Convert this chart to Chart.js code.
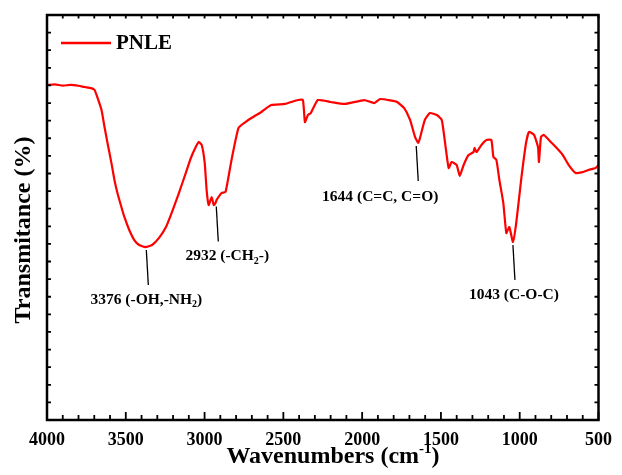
<!DOCTYPE html>
<html>
<head>
<meta charset="utf-8">
<script src="https://cdn.jsdelivr.net/npm/chart.js@4.4.1/dist/chart.umd.min.js"></script>
<style>
  html, body { margin: 0; padding: 0; background: #fff; }
  #wrap { width: 622px; height: 475px; }
</style>
</head>
<body>
<div id="wrap"><canvas id="chart-ftir"></canvas></div>
<script>
/* ---------- Datos del espectro ---------- */
const seriesLabel = 'PNLE';
const wavenumbers = [4000, 3950, 3900, 3850, 3800, 3761, 3720, 3698, 3679, 3654, 3635, 3616, 3591, 3572, 3553,
  3528, 3509, 3478, 3446, 3415, 3376, 3333, 3289, 3245, 3207, 3163, 3119, 3087, 3056, 3037, 3018, 2999, 2987,
  2974, 2955, 2942, 2932, 2924, 2892, 2867, 2829, 2785, 2741, 2703, 2640, 2577, 2489,
  2407, 2376, 2363, 2344, 2326, 2281, 2200, 2112, 1986, 1923, 1885, 1820, 1778, 1734, 1696, 1664, 1644, 1633,
  1602, 1570, 1526, 1495, 1476, 1451, 1432, 1400, 1381, 1356, 1325, 1293, 1287, 1274, 1243, 1211, 1180, 1167,
  1148, 1129, 1104, 1085, 1066, 1043, 1022, 991, 960, 941, 909, 884, 878, 865, 846, 815, 771, 727, 689, 645,
  601, 563, 519, 500];
const transmittance = [19.02, 19.06, 18.99, 19.03, 18.98, 18.91, 18.85, 18.74, 18.29, 17.60, 16.64, 15.73, 14.59, 13.63, 12.89,
  12.10, 11.53, 10.79, 10.22, 9.94, 9.82, 9.94, 10.34, 10.96, 11.81, 12.89, 14.03, 14.88, 15.50, 15.79, 15.62, 14.59, 13.06,
  12.21, 12.66, 12.21, 12.30, 12.49, 12.89, 12.95, 14.77, 16.58, 16.92, 17.15, 17.49, 17.89, 17.95,
  18.17, 18.17, 16.92, 17.32, 17.43, 18.17, 18.06, 17.95, 18.17, 18.00, 18.23, 18.15, 18.06, 17.72, 17.04, 16.07, 15.73, 16.01,
  17.04, 17.43, 17.32, 17.04, 15.90, 14.31, 14.65, 14.48, 13.86, 14.48, 15.05, 15.22, 15.45, 15.22, 15.62, 15.90, 15.90, 14.94,
  14.77, 13.63, 12.32, 10.62, 10.96, 10.11, 11.19, 13.63, 15.73, 16.36, 16.19, 15.50, 14.65, 16.07, 16.19, 15.90, 15.50, 15.05, 14.48, 14.03,
  14.08, 14.20, 14.31, 14.48];

/* ---------- Anotaciones de picos ---------- */
const peakWaves  = [3376, 2932, 1644, 1043];
const peakLabels = ['3376 (-OH,-NH_2)', '2932 (-CH_2-)', '1644 (C=C, C=O)', '1043 (C-O-C)'];

/* ---------- Ejes ---------- */
const xTickValues = [4000, 3500, 3000, 2500, 2000, 1500, 1000, 500];

const SERIF = "'Liberation Serif', 'Times New Roman', serif";
const RED = '#ff0000';

/* texto con subíndices: "_2" -> 2 pequeño */
function drawRich(ctx, str, cx, cy, size) {
  const parts = str.split(/_(\d)/);
  const big = `bold ${size}px ${SERIF}`, small = `bold ${Math.round(size * 0.62)}px ${SERIF}`;
  let total = 0;
  parts.forEach((p, i) => { ctx.font = i % 2 ? small : big; total += ctx.measureText(p).width; });
  let x = cx - total / 2;
  ctx.textAlign = 'left';
  ctx.textBaseline = 'middle';
  parts.forEach((p, i) => {
    ctx.font = i % 2 ? small : big;
    ctx.fillText(p, x, cy + (i % 2 ? size * 0.3 : 0));
    x += ctx.measureText(p).width;
  });
}

const ftirDecor = {
  id: 'ftirDecor',
  afterDatasetsDraw(chart, args, opts) {
    const { ctx, chartArea: a, scales: { x, y } } = chart;
    ctx.save();

    /* marco */
    ctx.strokeStyle = '#000';
    ctx.lineWidth = 2.5;
    ctx.strokeRect(a.left, a.top, a.right - a.left, a.bottom - a.top);

    /* ticks hacia adentro */
    ctx.lineWidth = 1.8;
    ctx.beginPath();
    for (let w = 500; w <= 4000; w += 100) {
      const px = x.getPixelForValue(w);
      const len = w % 500 === 0 ? 8 : 5;
      ctx.moveTo(px, a.bottom); ctx.lineTo(px, a.bottom - len);
      ctx.moveTo(px, a.top);    ctx.lineTo(px, a.top + 3.5);
    }
    for (let v = y.min; v <= y.max; v++) {
      const py = y.getPixelForValue(v);
      ctx.moveTo(a.left, py);  ctx.lineTo(a.left + 4, py);
      ctx.moveTo(a.right, py); ctx.lineTo(a.right - 4, py);
    }
    ctx.stroke();

    /* anotaciones */
    ctx.fillStyle = '#000';
    ctx.lineWidth = 1.3;
    peakWaves.forEach((w, i) => {
      let k = 0;
      wavenumbers.forEach((v, j) => { if (Math.abs(v - w) < Math.abs(wavenumbers[k] - w)) k = j; });
      const px = x.getPixelForValue(w);
      const py = y.getPixelForValue(transmittance[k]);
      const o = opts.offsets[i];
      ctx.beginPath();
      ctx.moveTo(px + o[0], py + 3);
      ctx.lineTo(px + o[0] + 2, py + 38);
      ctx.stroke();
      drawRich(ctx, peakLabels[i], px + o[1], py + 38 + o[2], 15.5);
    });

    /* leyenda */
    ctx.strokeStyle = RED;
    ctx.lineWidth = 2.5;
    ctx.beginPath();
    ctx.moveTo(61, 43); ctx.lineTo(111, 43);
    ctx.stroke();
    ctx.fillStyle = '#000';
    ctx.font = `bold 21px ${SERIF}`;
    ctx.textAlign = 'left';
    ctx.textBaseline = 'middle';
    ctx.fillText(seriesLabel, 116, 44);

    /* títulos de ejes */
    ctx.font = `bold 24px ${SERIF}`;
    const t1 = 'Wavenumbers (cm', t2 = '-1', t3 = ')';
    const w1 = ctx.measureText(t1).width, w3 = ctx.measureText(t3).width;
    ctx.font = `bold 15px ${SERIF}`;
    const w2 = ctx.measureText(t2).width;
    let tx = 333 - (w1 + w2 + w3) / 2;
    ctx.textBaseline = 'alphabetic';
    ctx.font = `bold 24px ${SERIF}`;
    ctx.fillText(t1, tx, 463); tx += w1;
    ctx.font = `bold 15px ${SERIF}`;
    ctx.fillText(t2, tx, 453); tx += w2;
    ctx.font = `bold 24px ${SERIF}`;
    ctx.fillText(t3, tx, 463);

    ctx.translate(24, 230);
    ctx.rotate(-Math.PI / 2);
    ctx.textAlign = 'center';
    ctx.textBaseline = 'middle';
    ctx.fillText('Transmitance (%)', 0, 0);

    ctx.restore();
  }
};

new Chart(document.getElementById('chart-ftir'), {
  type: 'scatter',
  data: {
    datasets: [{
      label: seriesLabel,
      data: wavenumbers.map((w, i) => ({ x: w, y: transmittance[i] })),
      showLine: true,
      borderColor: RED,
      borderWidth: 2.2,
      pointRadius: 0,
      tension: 0.15
    }]
  },
  options: {
    responsive: true, maintainAspectRatio: false,
    animation: false,
    layout: { padding: { top: 15, right: 19, left: 0, bottom: 0 } },
    plugins: {
      legend: { display: false },
      tooltip: { enabled: false },
      ftirDecor: { offsets: [[1, 1, 15], [1, 12, 15], [-2, -38, 16], [0, 1, 15]] }
    },
    scales: {
      x: {
        type: 'linear', reverse: true, min: 500, max: 4000,
        grid: { display: false, drawTicks: false },
        border: { display: false },
        afterBuildTicks: s => { s.ticks = xTickValues.map(v => ({ value: v })); },
        afterFit: s => { s.height = 55; },
        ticks: {
          color: '#000', padding: 10, maxRotation: 0,
          font: { family: SERIF, size: 18, weight: 'bold' },
          callback: v => String(v)
        }
      },
      y: {
        min: 0, max: 23,
        grid: { display: false, drawTicks: false },
        border: { display: false },
        ticks: { display: false, stepSize: 1 },
        afterFit: s => { s.width = 47; }
      }
    }
  },
  plugins: [ftirDecor]
});
</script>
</body>
</html>
